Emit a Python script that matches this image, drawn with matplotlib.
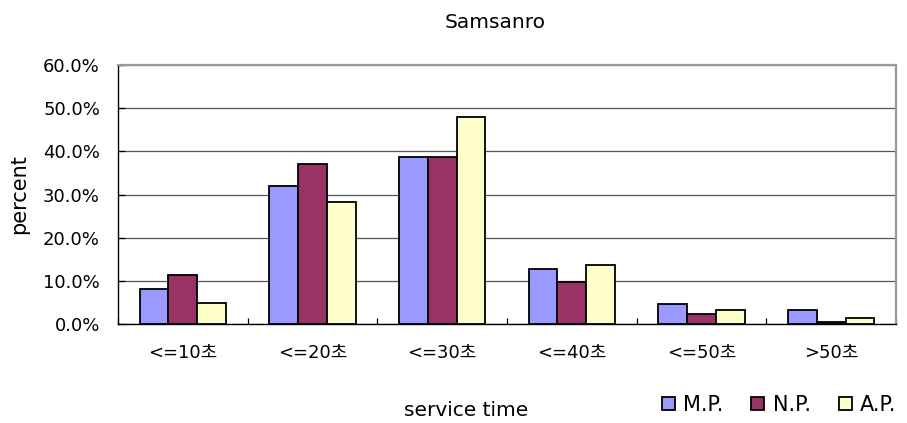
import numpy as np
import matplotlib
matplotlib.use("Agg")
import matplotlib.pyplot as plt
from matplotlib.patches import Patch

plt.rcParams['font.family'] = ['DejaVu Sans', 'Noto Sans CJK KR']

categories = ['<=10초', '<=20초', '<=30초', '<=40초', '<=50초', '>50초']
mp = [8.2, 32.0, 38.8, 12.8, 4.6, 3.3]
np_vals = [11.4, 37.0, 38.8, 9.7, 2.3, 0.5]
ap = [5.0, 28.4, 48.0, 13.7, 3.3, 1.5]
series_names = ['M.P.', 'N.P.', 'A.P.']
colors = ['#9999FF', '#993366', '#FFFFCC']

W, H = 907, 423
fig = plt.figure(figsize=(W / 100, H / 100), dpi=100)
ax = fig.add_axes([118 / W, (H - 324.3) / H, 778 / W, 259.3 / H])

x = np.arange(len(categories))
bw = 1 / 4.5
for i, (vals, c) in enumerate(zip([mp, np_vals, ap], colors)):
    ax.bar(x + (i - 1) * bw, vals, width=bw, color=c, edgecolor='black',
           linewidth=1.3, zorder=3)

ax.set_xlim(-0.5, len(categories) - 0.5)
ax.set_ylim(0, 60)
ax.set_yticks(np.arange(0, 61, 10))
ax.set_yticklabels([f'{v:.1f}%' for v in np.arange(0, 61, 10)], fontsize=13)
ax.yaxis.grid(True, color='#555555', linewidth=0.9, zorder=0)
ax.tick_params(axis='y', direction='in', length=5, width=0.9, pad=13)

ax.set_xticks(x)
ax.set_xticklabels(categories, fontsize=13)
ax.set_xticks(np.arange(-0.5, len(categories), 1), minor=True)
ax.tick_params(axis='x', which='major', length=0, pad=14)
ax.tick_params(axis='x', which='minor', direction='in', length=4.5, width=0.9)

for s in ['left', 'bottom']:
    ax.spines[s].set_color('black')
    ax.spines[s].set_linewidth(1.0)
for s in ['top', 'right']:
    ax.spines[s].set_color('#9a9a9a')
    ax.spines[s].set_linewidth(1.6)

fig.text(495 / W, 1 - 22 / H, 'Samsanro', ha='center', va='center', fontsize=14.5)
fig.text(19 / W, 1 - 194 / H, 'percent', ha='center', va='center',
         rotation=90, fontsize=15)
fig.text(466 / W, 1 - 410 / H, 'service time', ha='center', va='center', fontsize=14.5)

handles = [Patch(facecolor=c, edgecolor='black', linewidth=1.3) for c in colors]
fig.legend(handles, series_names, loc='center', bbox_to_anchor=(779 / W, 1 - 405 / H),
           ncol=3, frameon=False, fontsize=15, handlelength=0.62, handleheight=0.62,
           handletextpad=0.4, columnspacing=1.35, borderpad=0, borderaxespad=0)

fig.savefig('out.png', dpi=100)
